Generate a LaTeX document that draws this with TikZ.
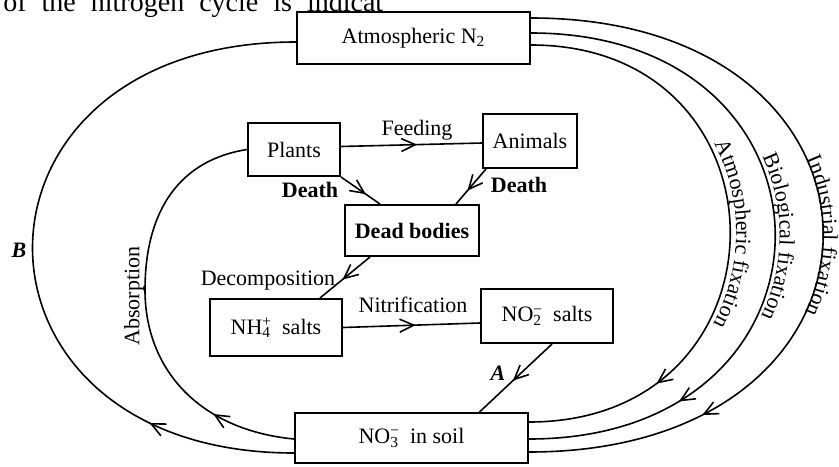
\documentclass[tikz,border=0pt]{standalone}
\usepackage{fontspec}
\setmainfont{Liberation Serif}
\usetikzlibrary{arrows.meta,decorations.markings,decorations.text}
\newcommand{\lblfont}{\fontsize{11}{13}\selectfont}
\tikzset{
  boxnode/.style={draw, line width=1pt, inner sep=0pt, font=\lblfont},
  conn/.style={line width=0.8pt},
  midarrow/.style={postaction={decorate}, decoration={markings, mark=at position #1 with {\arrow{Straight Barb[length=7pt,width=6.5pt,line width=0.8pt]}}}},
  midarrow/.default=0.5,
  lbl/.style={inner sep=0pt, font=\lblfont, anchor=base},
}
\begin{document}
\begin{tikzpicture}[x=0.5pt,y=-0.5pt]
\useasboundingbox (0,0) rectangle (839,466);
\clip (0,0) rectangle (839,466);

% clipped line of book text at the top
\node[inner sep=0pt, anchor=base west, font=\fontsize{14}{16}\selectfont] (topline) at (3,11) {\spaceskip=7.5pt of the nitrogen cycle is indicat};

% boxes
\node[boxnode, minimum width=116.5pt, minimum height=26pt] (atm) at (413.5,38) {Atmospheric N\textsubscript{2}};
\node[boxnode, minimum width=46pt, minimum height=26.5pt] (plants) at (294,149.5) {Plants};
\node[boxnode, minimum width=47pt, minimum height=27pt] (animals) at (530,141) {Animals};
\node[boxnode, minimum width=67pt, minimum height=25.5pt, font=\lblfont\bfseries] (dead) at (412,230.5) {Dead bodies};
\node[boxnode, minimum width=66pt, minimum height=28.5pt] (nh4) at (276,327.5) {NH\rlap{\textsuperscript{+}}\textsubscript{4}\ \ salts};
\node[boxnode, minimum width=66pt, minimum height=27pt] (no2) at (547,316) {NO\rlap{\textsuperscript{−}}\textsubscript{2}\ \ salts};
\node[boxnode, minimum width=116.5pt, minimum height=25pt] (no3) at (411.5,438) {NO\rlap{\textsuperscript{−}}\textsubscript{3}\ \ in soil};

% straight connectors
\draw[conn, midarrow=0.54] ([yshift=1.5pt]plants.east) -- ([yshift=-1pt]animals.west);
\draw[conn, midarrow=0.64] (plants.south east) -- ([xshift=-16pt]dead.north);
\draw[conn, midarrow=0.62] ([xshift=2pt]animals.south west) -- ([xshift=-12pt]dead.north east);
\draw[conn, midarrow=0.55] ([xshift=-21pt]dead.south) -- ([xshift=22pt]nh4.north);
\draw[conn, midarrow=0.53] (nh4.east) -- ([yshift=-3.5pt]no2.west);
\draw[conn, midarrow=0.54] ([xshift=2.5pt]no2.south) -- ([xshift=34pt]no3.north);

% fixation arcs (right)
\draw[conn, midarrow=0.78] ([yshift=-3.5pt]atm.east) .. controls (797,45) and (797,422) .. ([yshift=8pt]no3.east);
\draw[conn, midarrow=0.78] ([yshift=2.5pt]atm.east) .. controls (857,33) and (857,439) .. ([yshift=-0.5pt]no3.east);
\draw[conn, midarrow=0.78] ([yshift=10pt]atm.east) .. controls (921,18) and (921,452) .. ([yshift=-7pt]no3.east);

\path[decorate, decoration={text along path, text align=center, text={|\lblfont|Atmospheric fixation}}]
  ([yshift=-3.5pt]atm.east) .. controls (805,45) and (805,422) .. ([yshift=8pt]no3.east);
\path[decorate, decoration={text along path, text align=center, text={|\lblfont|Biological fixation}}]
  ([yshift=2.5pt]atm.east) .. controls (863,33) and (863,439) .. ([yshift=-0.5pt]no3.east);
\path[decorate, decoration={text along path, text align=center, text={|\lblfont|Industrial fixation}}]
  ([yshift=10pt]atm.east) .. controls (920,18) and (920,452) .. ([yshift=-7pt]no3.east);

% left arcs
\draw[conn, midarrow=0.2] ([yshift=-7.5pt]no3.west) .. controls (-55,453) and (-55,42) .. ([yshift=-2pt]atm.west);
\draw[conn, midarrow=0.2] ([yshift=-0.5pt]no3.west) .. controls (200,430) and (145,370) .. (145,290)
  .. controls (145,210) and (180,160) .. (plants.west);

% labels
\node[lbl] (lfeed) at (417,135) {Feeding};
\node[lbl, font=\lblfont\bfseries] (ldeatha) at (310,197) {Death};
\node[lbl, font=\lblfont\bfseries] (ldeathb) at (519,192) {Death};
\node[lbl] (ldecomp) at (268,285) {Decomposition};
\node[lbl] (lnitr) at (413,312) {Nitrification};
\node[lbl, font=\lblfont\bfseries\itshape] (la) at (498,380) {A};
\node[lbl, font=\lblfont\bfseries\itshape] (lb) at (19,257) {B};
\node[inner sep=0pt, font=\lblfont, rotate=90] (labs) at (134,296) {Absorption};
\end{tikzpicture}
\end{document}
